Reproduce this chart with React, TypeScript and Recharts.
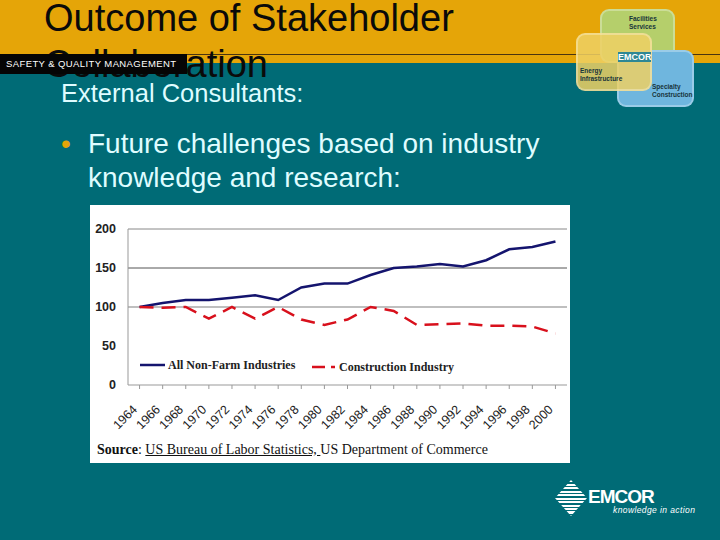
import { Legend, Line, LineChart, ReferenceLine, XAxis, YAxis } from "recharts";

const years = ["1964","1966","1968","1970","1972","1974","1976","1978","1980","1982","1984","1986","1988","1990","1992","1994","1996","1998","2000"];
const nonFarm = [100,105,109,109,112,115,109,125,130,130,141,150,152,155,152,160,174,177,184];
const construction = [100,99,100,85,100,85,100,84,77,84,100,95,77,78,79,76,76,75,66];
const yTicks = [0,50,100,150,200];

const rows = years.map((year, i) => ({ year, nonFarm: nonFarm[i], construction: construction[i] }));

const SANS = '"Liberation Sans", Arial, sans-serif';
const SERIF = '"Liberation Serif", "Times New Roman", serif';
const NAVY = "#14146e";
const RED = "#d8101c";

function LegendRow() {
  return (
    <div style={{ position: "relative", width: 420, height: 20, fontFamily: SERIF, fontWeight: 700, fontSize: 12, color: "#222" }}>
      <svg width={420} height={20} style={{ position: "absolute", left: 0, top: 0 }}>
        <line x1={0} x2={25} y1={8} y2={8} stroke={NAVY} strokeWidth={2.5} />
        <line x1={172} x2={195} y1={10} y2={10} stroke={RED} strokeWidth={2.5} strokeDasharray="13 6" />
      </svg>
      <span style={{ position: "absolute", left: 28, top: 1, whiteSpace: "nowrap" }}>All Non-Farm Industries</span>
      <span style={{ position: "absolute", left: 199, top: 3, whiteSpace: "nowrap" }}>Construction Industry</span>
    </div>
  );
}

function EmcorBlocks() {
  const box = (left: number, top: number, width: number, height: number, background: string) => (
    <div style={{ position: "absolute", left, top, width, height, background, borderRadius: 9, border: "2px solid rgba(255,255,255,0.3)", boxSizing: "border-box" }} />
  );
  const label = (left: number, top: number, text: string[]) => (
    <div style={{ position: "absolute", left, top, fontFamily: SANS, fontWeight: 700, fontSize: 6.5, lineHeight: "8px", color: "#17343a" }}>
      {text.map((t) => <div key={t}>{t}</div>)}
    </div>
  );
  return (
    <>
      {box(600, 9, 75, 54, "#b5cf6b")}
      {box(617, 50, 77, 57, "#6fb6de")}
      {box(576, 33, 76, 58, "rgba(238,208,100,0.85)")}
      <div style={{ position: "absolute", left: 618, top: 52, width: 33, height: 10, background: "#2e8794", color: "#fff", fontFamily: SANS, fontWeight: 700, fontSize: 9, lineHeight: "11px", textAlign: "center" }}>EMCOR</div>
      {label(629, 15, ["Facilities", "Services"])}
      {label(580, 67, ["Energy", "Infrastructure"])}
      {label(652, 83, ["Specialty", "Construction"])}
    </>
  );
}

export default function App() {
  return (
    <div style={{ position: "absolute", left: 0, top: 0, width: 720, height: 540, overflow: "hidden", background: "#006b76", fontFamily: SANS }}>
      <div style={{ position: "absolute", left: 0, top: 0, width: 720, height: 63, background: "#e5a508" }} />
      <div style={{ position: "absolute", left: 0, top: 54, width: 720, height: 1, background: "#4a3410" }} />

      <div style={{ position: "absolute", left: 44, top: -5, width: 470, fontSize: 38, lineHeight: "46px", color: "#0a0a0a" }}>
        Outcome of Stakeholder Collaboration
      </div>
      <div style={{ position: "absolute", left: 0, top: 54, width: 187, height: 20, background: "#050505", color: "#fff", fontSize: 9.5, lineHeight: "20px", paddingLeft: 6, boxSizing: "border-box", whiteSpace: "nowrap", letterSpacing: 0.4 }}>
        SAFETY &amp; QUALITY MANAGEMENT
      </div>

      <div style={{ position: "absolute", left: 61, top: 78, fontSize: 25.5, lineHeight: "30px", color: "#dffcff" }}>External Consultants:</div>
      <div style={{ position: "absolute", left: 61, top: 127, fontSize: 28, lineHeight: "34px", color: "#dffcff" }}>
        <span style={{ position: "absolute", left: 0, top: 0, color: "#e5a508" }}>•</span>
        <div style={{ marginLeft: 27, width: 480 }}>Future challenges based on industry knowledge and research:</div>
      </div>

      <EmcorBlocks />

      <div style={{ position: "absolute", left: 90, top: 205, width: 480, height: 258, background: "#fff" }}>
        <LineChart width={480} height={258} data={rows} margin={{ top: 24, right: 3, bottom: 0, left: 0 }}>
          <XAxis
            dataKey="year"
            scale="band"
            interval={0}
            height={78}
            angle={-45}
            textAnchor="end"
            tickSize={4}
            tickMargin={15}
            stroke="#999"
            tick={{ fill: "#222", fontSize: 12.5, fontFamily: SANS, dx: -8 }}
          />
          <YAxis
            domain={[0, 200]}
            ticks={yTicks}
            width={38}
            tickLine={false}
            tickMargin={6}
            stroke="#999"
            tick={{ fill: "#222", fontSize: 12.5, fontWeight: 700, fontFamily: SANS }}
          />
          <YAxis yAxisId="edge" orientation="right" width={0} tick={false} tickLine={false} stroke="#999" />
          <ReferenceLine y={100} stroke="#aaa" strokeWidth={1.5} />
          <ReferenceLine y={150} stroke="#555" />
          <ReferenceLine y={200} stroke="#888" />
          <Legend
            verticalAlign="middle"
            content={() => <LegendRow />}
            wrapperStyle={{ position: "absolute", left: 50, top: 152, width: 420 }}
          />
          <Line dataKey="nonFarm" stroke={NAVY} strokeWidth={2.5} dot={false} isAnimationActive={false} />
          <Line dataKey="construction" stroke={RED} strokeWidth={2.5} strokeDasharray="14 8" dot={false} isAnimationActive={false} />
        </LineChart>
        <div style={{ position: "absolute", left: 7, top: 237, fontFamily: SERIF, fontSize: 14, lineHeight: "16px", color: "#111", whiteSpace: "nowrap" }}>
          <b>Source</b>: <u>US Bureau of Labor Statistics, </u>US Department of Commerce
        </div>
      </div>

      <div style={{ position: "absolute", left: 555, top: 480, width: 32, height: 36, clipPath: "polygon(50% 0, 100% 50%, 50% 100%, 0 50%)", background: "repeating-linear-gradient(180deg, #fff 0 2px, #006b76 2px 3.5px)" }} />
      <div style={{ position: "absolute", left: 588, top: 486, fontFamily: SANS, fontWeight: 700, fontSize: 19, lineHeight: "22px", letterSpacing: -1, color: "#fff" }}>EMCOR</div>
      <div style={{ position: "absolute", left: 613, top: 505, fontFamily: SANS, fontStyle: "italic", fontSize: 8.5, lineHeight: "11px", letterSpacing: 0.4, color: "#fff", whiteSpace: "nowrap" }}>knowledge in action</div>
    </div>
  );
}
